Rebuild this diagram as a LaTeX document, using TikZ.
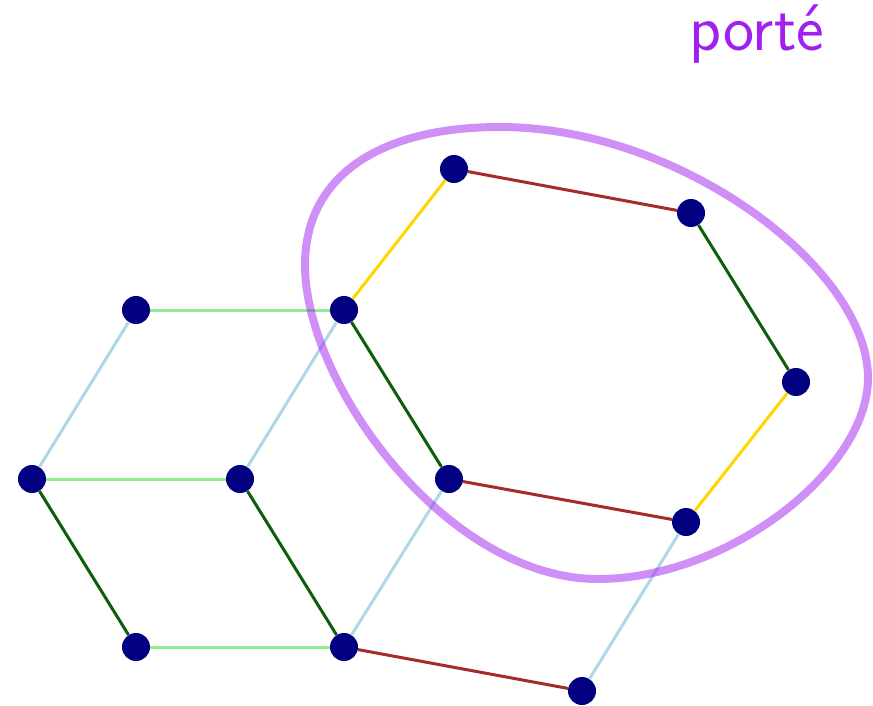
\documentclass[tikz,border=0pt]{standalone}
\begin{document}
\begin{tikzpicture}[x=1pt,y=-1pt,
  vertex/.style={circle,fill=navy,draw=none,minimum size=28pt,inner sep=0pt},
  edge/.style={line width=3pt},
  lg/.style={edge,draw=lgreen},
  lb/.style={edge,draw=lblue},
  dg/.style={edge,draw=dgreen},
  br/.style={edge,draw=bred},
  yl/.style={edge,draw=gold}]
\definecolor{navy}{HTML}{000080}
\definecolor{lgreen}{HTML}{90EE90}
\definecolor{lblue}{HTML}{ADD8E6}
\definecolor{dgreen}{HTML}{0B5E0B}
\definecolor{bred}{HTML}{A52A2A}
\definecolor{gold}{HTML}{FFD700}
\definecolor{violet}{HTML}{A020F0}
\useasboundingbox (0,0) rectangle (873,706);
% vertices
\node[vertex] (a) at (136,310) {};
\node[vertex] (b) at (344,310) {};
\node[vertex] (c) at (32,479) {};
\node[vertex] (d) at (240,479) {};
\node[vertex] (e) at (136,647) {};
\node[vertex] (f) at (344,647) {};
\node[vertex] (g) at (454,169) {};
\node[vertex] (h) at (691,213) {};
\node[vertex] (i) at (796,382) {};
\node[vertex] (j) at (449,479) {};
\node[vertex] (k) at (686,522) {};
\node[vertex] (l) at (582,691) {};
% edges
\draw[lg] (a) -- (b);
\draw[lb] (a) -- (c);
\draw[lg] (c) -- (d);
\draw[lb] (d) -- (b);
\draw[dg] (c) -- (e);
\draw[dg] (d) -- (f);
\draw[lg] (e) -- (f);
\draw[br] (f) -- (l);
\draw[lb] (f) -- (j);
\draw[dg] (b) -- (j);
\draw[yl] (b) -- (g);
\draw[br] (g) -- (h);
\draw[dg] (h) -- (i);
\draw[yl] (i) -- (k);
\draw[br] (j) -- (k);
\draw[lb] (k) -- (l);
% translucent loop around the upper hexagon
\coordinate (west) at (305,265);
\coordinate (north) at (500,127);
\coordinate (east) at (868,378);
\coordinate (south) at (598,579);
\draw[violet,opacity=0.5,line width=8pt]
  (west) .. controls (305,178) and (377,127) .. (north)
         .. controls (680,127) and (868,268) .. (east)
         .. controls (868,470) and (728,579) .. (south)
         .. controls (448,579) and (305,385) .. (west) -- cycle;
\node[violet,anchor=base,inner sep=0pt,font=\sffamily\fontsize{66}{74}\selectfont] (t) at (757,51) {porté};
\end{tikzpicture}
\end{document}
